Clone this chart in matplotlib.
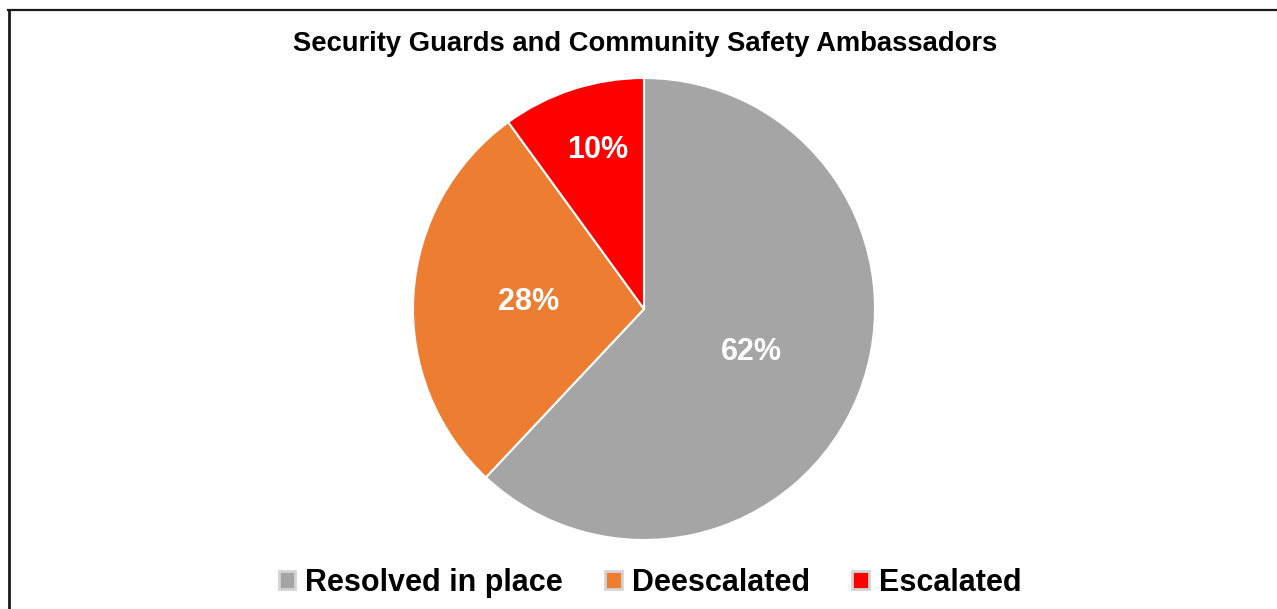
import matplotlib.pyplot as plt
from matplotlib.patches import Patch
from matplotlib.lines import Line2D

plt.rcParams['font.family'] = ['Liberation Sans', 'DejaVu Sans']

# incident outcomes
labels = ['Resolved in place', 'Deescalated', 'Escalated']
shares = [62, 28, 10]
colors = ['#A5A5A5', '#ED7D31', '#FF0000']

W, H = 1277, 609
fig = plt.figure(figsize=(W / 100, H / 100), dpi=100)

# pie axes: centre (644, 309) px, radius 231 px
cx, cy, r = 644, 309, 231
ax = fig.add_axes([(cx - r) / W, (H - cy - r) / H, 2 * r / W, 2 * r / H])
wedges, _, autotexts = ax.pie(
    shares, colors=colors, startangle=90, counterclock=False,
    autopct='%1.0f%%', pctdistance=0.5,
    wedgeprops=dict(edgecolor='white', linewidth=1.5),
    textprops=dict(color='white', fontsize=22, fontweight='bold'))
ax.set_xlim(-1, 1)
ax.set_ylim(-1, 1)
# the small slice label sits higher up in the wedge
autotexts[2].set_position((-0.20, 0.69))

fig.text(645 / W, 1 - 44 / H, 'Security Guards and Community Safety Ambassadors',
         ha='center', va='center', fontsize=19.75, fontweight='bold')

handles = [Patch(facecolor=c, edgecolor='#D4D4D4', linewidth=2) for c in colors]
fig.legend(handles, labels, loc='center', bbox_to_anchor=(650 / W, 1 - 583 / H),
           ncol=3, frameon=False, handlelength=0.55, handleheight=0.55,
           handletextpad=0.33, columnspacing=1.37,
           prop=dict(size=22, weight='bold'))

# frame lines along the top and left
fig.add_artist(Line2D([8 / W, 1], [1 - 10 / H, 1 - 10 / H], color='#1a1a1a', lw=1.6))
fig.add_artist(Line2D([8.5 / W, 8.5 / W], [0, 1 - 10 / H], color='#1a1a1a', lw=2))

fig.savefig('out.png', dpi=100)
